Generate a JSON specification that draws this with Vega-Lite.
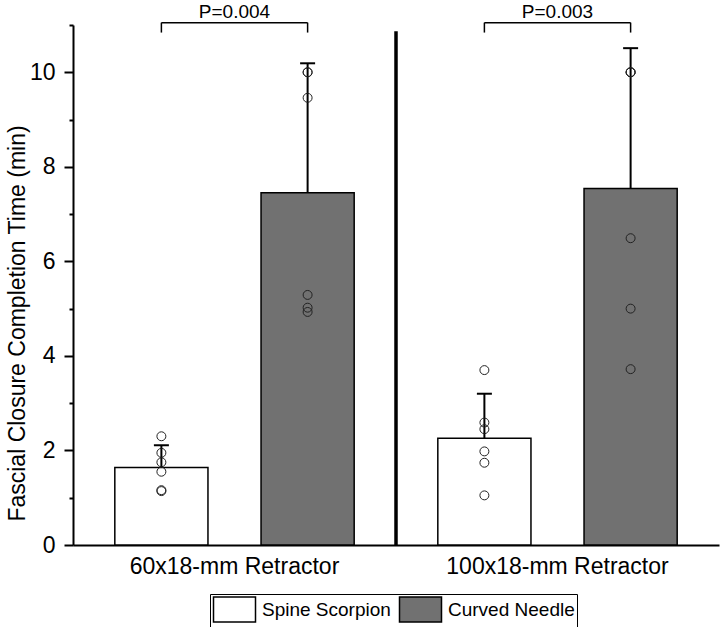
{
  "$schema": "https://vega.github.io/schema/vega-lite/v6.json",
  "width": 646,
  "height": 520,
  "autosize": {"type": "none"},
  "padding": {"left": 73, "top": 25, "right": 3, "bottom": 82},
  "background": "white",
  "config": {
    "view": {"stroke": null},
    "font": "Liberation Sans"
  },
  "datasets": {
    "bars": [
      {"retractor": "60x18-mm Retractor", "device": "Spine Scorpion", "mean": 1.64, "upper": 2.11},
      {"retractor": "60x18-mm Retractor", "device": "Curved Needle", "mean": 7.45, "upper": 10.19},
      {"retractor": "100x18-mm Retractor", "device": "Spine Scorpion", "mean": 2.26, "upper": 3.20},
      {"retractor": "100x18-mm Retractor", "device": "Curved Needle", "mean": 7.54, "upper": 10.51}
    ],
    "points": [
      {"retractor": "60x18-mm Retractor", "device": "Spine Scorpion", "value": 2.30},
      {"retractor": "60x18-mm Retractor", "device": "Spine Scorpion", "value": 1.95},
      {"retractor": "60x18-mm Retractor", "device": "Spine Scorpion", "value": 1.75},
      {"retractor": "60x18-mm Retractor", "device": "Spine Scorpion", "value": 1.55},
      {"retractor": "60x18-mm Retractor", "device": "Spine Scorpion", "value": 1.16},
      {"retractor": "60x18-mm Retractor", "device": "Spine Scorpion", "value": 1.14},
      {"retractor": "60x18-mm Retractor", "device": "Curved Needle", "value": 10.0},
      {"retractor": "60x18-mm Retractor", "device": "Curved Needle", "value": 10.0},
      {"retractor": "60x18-mm Retractor", "device": "Curved Needle", "value": 9.46},
      {"retractor": "60x18-mm Retractor", "device": "Curved Needle", "value": 5.29},
      {"retractor": "60x18-mm Retractor", "device": "Curved Needle", "value": 5.02},
      {"retractor": "60x18-mm Retractor", "device": "Curved Needle", "value": 4.93},
      {"retractor": "100x18-mm Retractor", "device": "Spine Scorpion", "value": 3.70},
      {"retractor": "100x18-mm Retractor", "device": "Spine Scorpion", "value": 2.59},
      {"retractor": "100x18-mm Retractor", "device": "Spine Scorpion", "value": 2.45},
      {"retractor": "100x18-mm Retractor", "device": "Spine Scorpion", "value": 1.98},
      {"retractor": "100x18-mm Retractor", "device": "Spine Scorpion", "value": 1.74},
      {"retractor": "100x18-mm Retractor", "device": "Spine Scorpion", "value": 1.05},
      {"retractor": "100x18-mm Retractor", "device": "Curved Needle", "value": 10.0},
      {"retractor": "100x18-mm Retractor", "device": "Curved Needle", "value": 10.0},
      {"retractor": "100x18-mm Retractor", "device": "Curved Needle", "value": 10.0},
      {"retractor": "100x18-mm Retractor", "device": "Curved Needle", "value": 6.49},
      {"retractor": "100x18-mm Retractor", "device": "Curved Needle", "value": 5.0},
      {"retractor": "100x18-mm Retractor", "device": "Curved Needle", "value": 3.72}
    ],
    "pvals": [
      {"retractor": "60x18-mm Retractor", "label": "P=0.004"},
      {"retractor": "100x18-mm Retractor", "label": "P=0.003"}
    ]
  },
  "encoding": {
    "x": {
      "field": "retractor",
      "type": "nominal",
      "sort": ["60x18-mm Retractor", "100x18-mm Retractor"],
      "scale": {"domain": ["60x18-mm Retractor", "100x18-mm Retractor"], "paddingInner": 0, "paddingOuter": 0},
      "axis": {
        "title": null,
        "labelAngle": 0,
        "labelFontSize": 23,
        "labelLimit": 0,
        "labelColor": "black",
        "labelPadding": 10,
        "ticks": false,
        "domainColor": "black",
        "domainWidth": 2
      }
    }
  },
  "layer": [
    {
      "data": {"name": "bars"},
      "mark": {"type": "bar", "stroke": "black", "strokeWidth": 1.5},
      "encoding": {
        "xOffset": {
          "field": "device",
          "type": "nominal",
          "sort": ["Spine Scorpion", "Curved Needle"],
          "scale": {"domain": ["Spine Scorpion", "Curved Needle"], "paddingInner": 0.363, "paddingOuter": 0.286}
        },
        "y": {
          "field": "mean",
          "type": "quantitative",
          "scale": {"domain": [0, 11], "nice": false, "zero": true},
          "axis": {
            "title": "Fascial Closure Completion Time (min)",
            "titleFontSize": 23,
            "titleFontWeight": "normal",
            "titleColor": "black",
            "titleX": -44,
            "titleY": 298,
            "titleAngle": -90,
            "titleAlign": "center",
            "titleBaseline": "bottom",
            "values": [0, 1, 2, 3, 4, 5, 6, 7, 8, 9, 10, 11],
            "labelExpr": "datum.value % 2 === 0 ? datum.label : ''",
            "labelFontSize": 23,
            "labelColor": "black",
            "labelPadding": 9,
            "grid": false,
            "domainColor": "black",
            "domainWidth": 2,
            "tickColor": "black",
            "tickWidth": 2,
            "tickSize": {"condition": {"test": "datum.value % 2 === 1", "value": 4}, "value": 9}
          }
        },
        "fill": {
          "field": "device",
          "type": "nominal",
          "sort": ["Spine Scorpion", "Curved Needle"],
          "scale": {"domain": ["Spine Scorpion", "Curved Needle"], "range": ["white", "#717171"]},
          "legend": {
            "title": null,
            "orient": "none",
            "legendX": 137,
            "legendY": 569,
            "direction": "horizontal",
            "strokeColor": "black",
            "padding": 2,
            "symbolType": "M-1.68,-1H1.68V1H-1.68Z",
            "symbolSize": 625,
            "symbolOffset": 9,
            "symbolStrokeColor": "black",
            "symbolStrokeWidth": 1.5,
            "labelFontSize": 19,
            "labelColor": "black",
            "labelOffset": 14,
            "columnPadding": 5,
            "symbolOpacity": 1
          }
        }
      }
    },
    {
      "data": {"name": "bars"},
      "mark": {"type": "rule", "color": "black", "strokeWidth": 2},
      "encoding": {
        "xOffset": {"field": "device", "type": "nominal", "sort": ["Spine Scorpion", "Curved Needle"]},
        "y": {"field": "mean", "type": "quantitative"},
        "y2": {"field": "upper"}
      }
    },
    {
      "data": {"name": "bars"},
      "mark": {"type": "tick", "color": "black", "thickness": 2, "size": 15, "opacity": 1},
      "encoding": {
        "xOffset": {"field": "device", "type": "nominal", "sort": ["Spine Scorpion", "Curved Needle"]},
        "y": {"field": "upper", "type": "quantitative"}
      }
    },
    {
      "data": {"name": "points"},
      "mark": {"type": "point", "shape": "circle", "filled": false, "stroke": "#222222", "strokeWidth": 1, "size": 80, "opacity": 1},
      "encoding": {
        "xOffset": {"field": "device", "type": "nominal", "sort": ["Spine Scorpion", "Curved Needle"]},
        "y": {"field": "value", "type": "quantitative"}
      }
    },
    {
      "data": {"name": "bars"},
      "mark": {"type": "line", "color": "black", "strokeWidth": 1.5},
      "encoding": {
        "xOffset": {"field": "device", "type": "nominal", "sort": ["Spine Scorpion", "Curved Needle"]},
        "y": {"datum": 11.05},
        "detail": {"field": "retractor", "type": "nominal"}
      }
    },
    {
      "data": {"name": "bars"},
      "mark": {"type": "rule", "color": "black", "strokeWidth": 1.5},
      "encoding": {
        "xOffset": {"field": "device", "type": "nominal", "sort": ["Spine Scorpion", "Curved Needle"]},
        "y": {"datum": 10.84},
        "y2": {"datum": 11.05}
      }
    },
    {
      "data": {"name": "pvals"},
      "mark": {"type": "text", "fontSize": 19, "color": "black", "baseline": "alphabetic", "align": "center"},
      "encoding": {
        "y": {"datum": 11.14},
        "text": {"field": "label", "type": "nominal"}
      }
    },
    {
      "data": {"name": "pvals"},
      "transform": [{"filter": "datum.retractor === '100x18-mm Retractor'"}],
      "mark": {"type": "rule", "color": "black", "strokeWidth": 3.5},
      "encoding": {
        "x": {"field": "retractor", "type": "nominal", "bandPosition": 0},
        "y": {"datum": 0},
        "y2": {"datum": 10.87}
      }
    }
  ]
}
